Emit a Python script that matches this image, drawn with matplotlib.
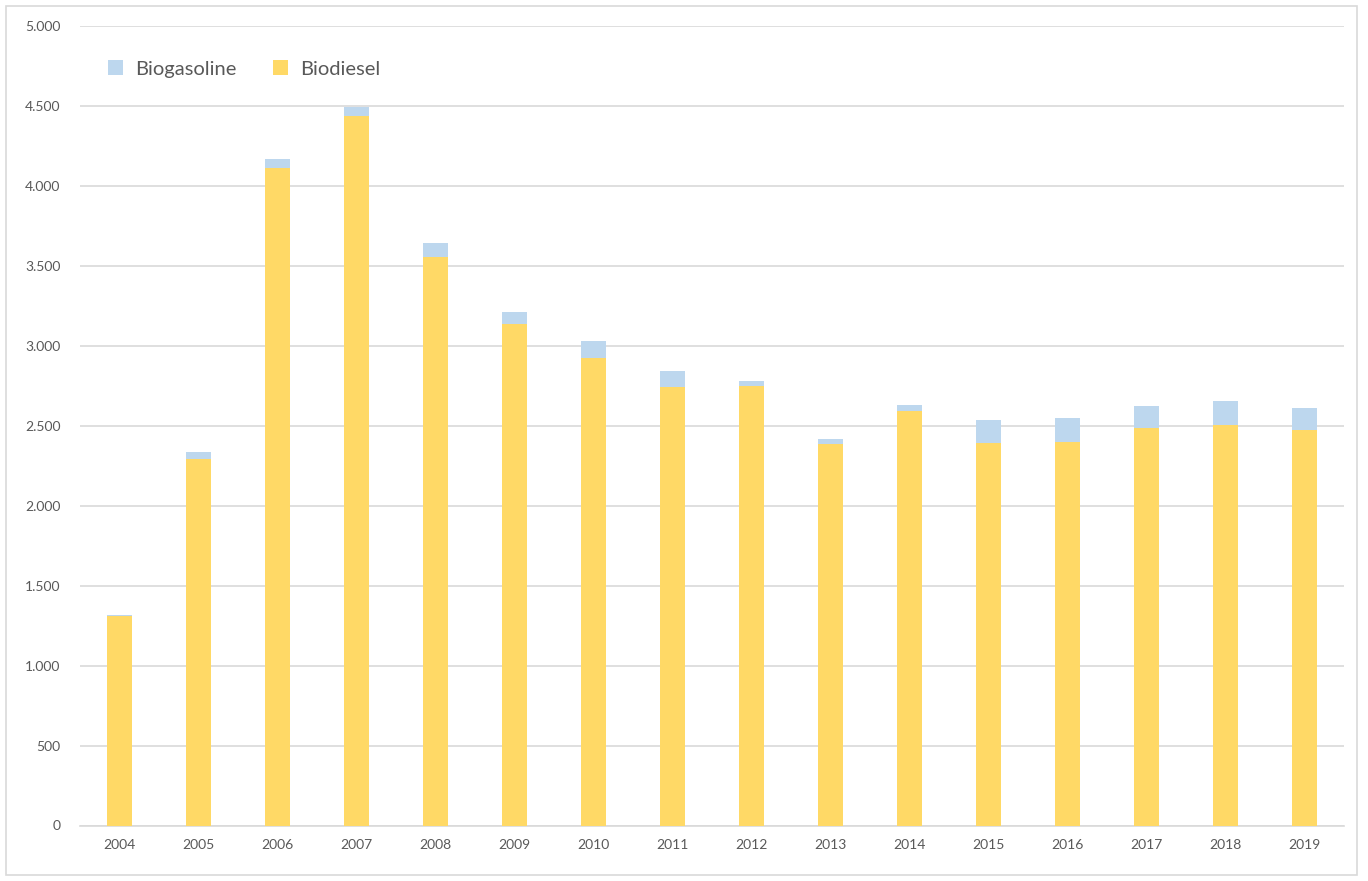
import matplotlib
matplotlib.use("Agg")
import matplotlib.pyplot as plt
from matplotlib.patches import Rectangle, Patch
from matplotlib.ticker import FuncFormatter, MultipleLocator

years = ["2004", "2005", "2006", "2007", "2008", "2009", "2010", "2011",
         "2012", "2013", "2014", "2015", "2016", "2017", "2018", "2019"]
biodiesel = [1313, 2289, 4111, 4439, 3553, 3134, 2922, 2740,
             2747, 2383, 2592, 2390, 2401, 2487, 2504, 2476]
biogasoline = [5, 46, 60, 53, 88, 79, 107, 105,
               35, 34, 38, 147, 149, 139, 150, 134]

plt.rcParams['font.family'] = ['Lato', 'DejaVu Sans']

fig = plt.figure(figsize=(13.68, 8.81), dpi=100)
ax = fig.add_axes([80/1368, (881-825.5)/881, 1264/1368, (825.5-26)/881])

x = list(range(len(years)))
c_bd = "#FFD966"
c_bg = "#BDD7EE"
ax.bar(x, biodiesel, width=0.31, color=c_bd, zorder=3)
ax.bar(x, biogasoline, width=0.31, bottom=biodiesel, color=c_bg, zorder=3)

ax.set_xlim(-0.5, len(years) - 0.5)
ax.set_ylim(0, 5000)
ax.yaxis.set_major_locator(MultipleLocator(500))
ax.yaxis.set_major_formatter(FuncFormatter(lambda v, p: f"{int(v):,}".replace(",", ".")))
ax.set_xticks(x)
ax.set_xticklabels(years)
ax.grid(axis='y', color='#D9D9D9', linewidth=1.2, zorder=0)
for s in ['top', 'right', 'left']:
    ax.spines[s].set_visible(False)
ax.spines['bottom'].set_color('#D9D9D9')
ax.spines['bottom'].set_linewidth(1.2)
ax.tick_params(axis='both', length=0, labelsize=10, colors='#595959')
ax.tick_params(axis='y', pad=14)
ax.tick_params(axis='x', pad=10)

handles = [Patch(facecolor=c_bg, label='Biogasoline'), Patch(facecolor=c_bd, label='Biodiesel')]
ax.legend(handles=handles, ncol=2, frameon=False, loc='upper left',
          bbox_to_anchor=(0.008, 0.98), fontsize=14.5, labelcolor='#595959',
          handlelength=0.75, handleheight=0.75, handletextpad=0.6, columnspacing=1.8)

fig.patches.append(Rectangle((6/1368, 6/881), 1351/1368, 869/881, transform=fig.transFigure,
                             fill=False, edgecolor='#D9D9D9', linewidth=1.2))

fig.savefig("out.png", dpi=100)
